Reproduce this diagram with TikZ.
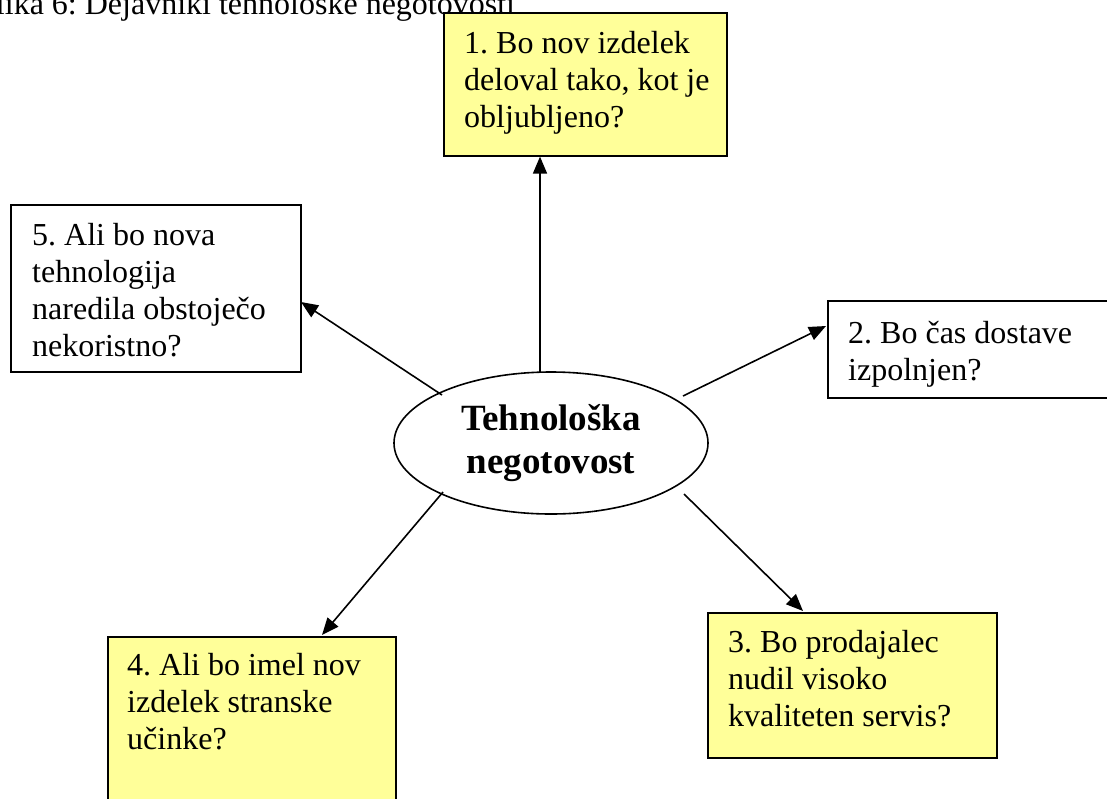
\documentclass[tikz,border=0pt]{standalone}
\usepackage{fontspec}
\setmainfont{Liberation Serif}
\usetikzlibrary{arrows.meta,shapes.geometric}
\definecolor{notepad}{HTML}{FFFF99}
\frenchspacing
\begin{document}
\begin{tikzpicture}[x=1pt,y=-1pt,
  qbox/.style={draw=black,line width=1.6pt,rectangle,inner sep=0pt,anchor=north west},
  yellowbox/.style={qbox,fill=notepad},
  whitebox/.style={qbox,fill=white},
  qtext/.style={anchor=north west,inner sep=0pt,align=left,
    font=\fontsize{32}{37}\selectfont,xshift=21pt,yshift=-19pt},
  link/.style={line width=1.6pt,-{Triangle[length=17pt,width=14pt]}}]
\useasboundingbox (0,0) rectangle (1107,798);
\clip (0,0) rectangle (1107,798);

% caption line above the figure
\node[anchor=base west,inner sep=0pt,font=\fontsize{32}{37}\selectfont]
  (caption) at (-22,14) {Slika 6: Dejavniki tehnološke negotovosti};

% central ellipse
\node[ellipse,draw,line width=1.6pt,minimum width=314pt,minimum height=142pt,
  inner sep=0pt,align=center,font=\fontsize{37}{43}\selectfont\bfseries]
  (core) at (551,443) {Tehnološka\\negotovost};

% question boxes
\node[yellowbox,minimum width=283pt,minimum height=143pt] (box1) at (443,12) {};
\node[qtext] (q1) at (box1.north west)
  {\rule{0pt}{22pt}1. Bo nov izdelek\\deloval tako, kot je\\obljubljeno?};

\node[whitebox,minimum width=290pt,minimum height=167pt] (box5) at (10,204) {};
\node[qtext,xshift=1pt] (q5) at (box5.north west)
  {\rule{0pt}{22pt}5. Ali bo nova\\tehnologija\\naredila obstoječo\\nekoristno?};

\node[whitebox,minimum width=300pt,minimum height=97pt] (box2) at (827,300) {};
\node[qtext,yshift=-2pt] (q2) at (box2.north west)
  {\rule{0pt}{22pt}2. Bo čas dostave\\izpolnjen?};

\node[yellowbox,minimum width=289pt,minimum height=145pt] (box3) at (707,612) {};
\node[qtext,yshift=1pt] (q3) at (box3.north west)
  {\rule{0pt}{22pt}3. Bo prodajalec\\nudil visoko\\kvaliteten servis?};

\node[yellowbox,minimum width=288pt,minimum height=190pt] (box4) at (107,636) {};
\node[qtext,xshift=-1pt,yshift=2pt] (q4) at (box4.north west)
  {\rule{0pt}{22pt}4. Ali bo imel nov\\izdelek stranske\\učinke?};

% connector end points
\coordinate (s1) at (540,373);
\coordinate (s5) at (442,395);
\coordinate (t5) at (301,302);
\coordinate (s2) at (683,396);
\coordinate (t2) at (826,326);
\coordinate (s4) at (443,492);
\coordinate (t4) at (322,635);
\coordinate (s3) at (684,494);
\coordinate (t3) at (803,611);

% connectors
\draw[link] (s1) -- (s1 |- box1.south);
\draw[link] (s5) -- (t5);
\draw[link] (s2) -- (t2);
\draw[link] (s4) -- (t4);
\draw[link] (s3) -- (t3);
\end{tikzpicture}
\end{document}
